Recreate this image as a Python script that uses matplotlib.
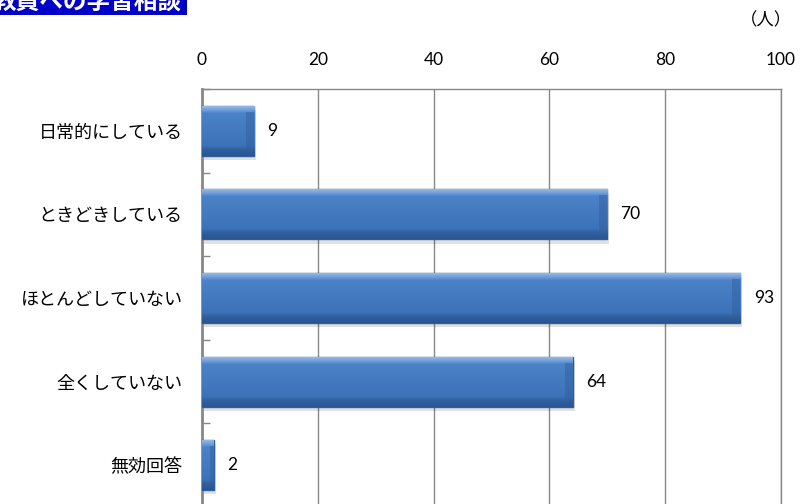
import numpy as np
import matplotlib.pyplot as plt
from matplotlib.patches import Rectangle
from matplotlib.colors import LinearSegmentedColormap

plt.rcParams['font.family'] = ['Noto Sans CJK JP', 'DejaVu Sans']

categories = ['日常的にしている', 'ときどきしている', 'ほとんどしていない', '全くしていない', '無効回答']
values = [9, 70, 93, 64, 2]
xticks = [0, 20, 40, 60, 80, 100]
title = '教員への学習相談'
unit = '（人）'

W, H = 803, 504
fig = plt.figure(figsize=(W / 100, H / 100), dpi=100)

# title box, cut off at the top edge like the source
fig.patches.append(Rectangle((0, 1 - 15 / H), 187 / W, 15 / H, transform=fig.transFigure,
                             facecolor='#0000C8', edgecolor='none', zorder=0))
fig.text(-7 / W, 1 - 2 / H, title, color='white', fontsize=17, fontweight='bold',
         ha='left', va='center')
fig.text(792 / W, 1 - 20 / H, unit, fontsize=12.5, ha='right', va='center')

ax = fig.add_axes([202 / W, -3 / H, 579 / W, 418 / H])
y = np.arange(len(categories))
bar_h = 0.6

# shadow
ax.barh(y + 0.05, values, height=bar_h, left=0.35, color='#000000', alpha=0.12,
        edgecolor='none', zorder=2)
bars = ax.barh(y, values, height=bar_h, color='#4479BF', edgecolor='#2F5F98',
               linewidth=1.0, zorder=3)

# bevel: light top strip, flat body, dark bottom strip
grad = np.linspace(0, 1, 200).reshape(-1, 1)
cmap = LinearSegmentedColormap.from_list('bev', [
    (0.0, '#9CBFE8'), (0.10, '#6E9CD8'), (0.16, '#4A82C8'),
    (0.80, '#3C72B8'), (0.88, '#2F5F9E'), (1.0, '#2A5690')])
edge_w = 8 / 5.79  # right-end bevel width in data units (~8 px)
for b in bars:
    x0, y0 = b.get_x(), b.get_y()
    w, h = b.get_width(), b.get_height()
    im = ax.imshow(grad, extent=[x0, x0 + w, y0 + h, y0], aspect='auto', cmap=cmap,
                   zorder=3.5, interpolation='bilinear')
    im.set_clip_path(b)
    ew = min(edge_w, w * 0.3)
    ax.add_patch(Rectangle((x0 + w - ew, y0 + h * 0.12), ew, h * 0.76,
                           facecolor='#2F5F9E', alpha=0.45, edgecolor='none', zorder=3.6))

for yi, v in zip(y, values):
    ax.text(v + 2.3, yi, str(v), va='center', ha='left', fontsize=12.5, family='Lato',
            zorder=5)

ax.set_xlim(0, 100)
ax.set_ylim(len(categories) - 0.5, -0.5)
ax.set_xticks(xticks)
ax.set_xticklabels([str(t) for t in xticks], family='Lato', fontsize=12.5)
ax.xaxis.tick_top()
ax.tick_params(axis='x', length=0, pad=15)
ax.set_yticks(y)
ax.set_yticklabels(categories, fontsize=13)
ax.tick_params(axis='y', length=0, pad=14)
ax.set_yticks(np.arange(len(categories) + 1) - 0.5, minor=True)
ax.tick_params(axis='y', which='minor', direction='in', length=6, color='#888888', width=1)
ax.grid(axis='x', color='#888888', linewidth=1, zorder=0)
ax.set_axisbelow(True)
for s in ax.spines.values():
    s.set_color('#888888')
    s.set_linewidth(1)
ax.spines['left'].set_linewidth(2)

fig.savefig('out.png', dpi=100)
